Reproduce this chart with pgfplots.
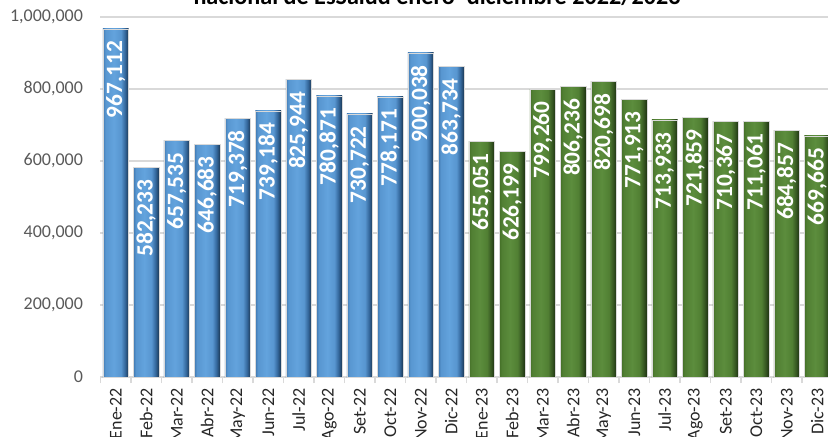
\documentclass[border=0pt]{standalone}
\usepackage{pgfplots}
\pgfplotsset{compat=1.18}
\usepackage{fontspec}
\setmainfont{Carlito}
\definecolor{bl1}{HTML}{3F78B0}
\definecolor{bl2}{HTML}{5896D0}
\definecolor{bl3}{HTML}{63A3DD}
\definecolor{bl4}{HTML}{33669A}
\definecolor{bl5}{HTML}{1A344F}
\definecolor{gr1}{HTML}{436F27}
\definecolor{gr2}{HTML}{517F33}
\definecolor{gr3}{HTML}{5C8D3D}
\definecolor{gr4}{HTML}{365722}
\definecolor{gr5}{HTML}{1B2E10}
\definecolor{ytxt}{HTML}{595959}
\definecolor{gridc}{HTML}{D9D9D9}
\pgfdeclarehorizontalshading{bluebar}{100bp}{color(0bp)=(bl1); color(25bp)=(bl1); color(30bp)=(bl2); color(46bp)=(bl3); color(60bp)=(bl2); color(68bp)=(bl4); color(75bp)=(bl5); color(100bp)=(bl5)}
\pgfdeclarehorizontalshading{greenbar}{100bp}{color(0bp)=(gr1); color(25bp)=(gr1); color(30bp)=(gr2); color(46bp)=(gr3); color(60bp)=(gr2); color(68bp)=(gr4); color(75bp)=(gr5); color(100bp)=(gr5)}

\begin{document}
\begin{tikzpicture}
\useasboundingbox (0pt,0pt) rectangle (621pt,327pt);
\clip (0pt,0pt) rectangle (621pt,327pt);
\node[anchor=base, font=\fontsize{18.1}{21}\selectfont\bfseries] at (327.75pt,323.25pt) {nacional de EsSalud enero–diciembre 2022/2023};
\begin{axis}[
  at={(75.375pt,44.25pt)}, anchor=south west,
  scale only axis, width=549pt, height=270pt,
  xmin=-0.5, xmax=23.5, ymin=0, ymax=1000000,
  bar shift=0pt,
  axis x line*=bottom, axis y line*=left,
  y axis line style={draw=none},
  x axis line style={-, draw=gridc, line width=1.1pt},
  xtick={0,...,23},
  xticklabels={Ene-22,Feb-22,Mar-22,Abr-22,May-22,Jun-22,Jul-22,Ago-22,Set-22,Oct-22,Nov-22,Dic-22,Ene-23,Feb-23,Mar-23,Abr-23,May-23,Jun-23,Jul-23,Ago-23,Set-23,Oct-23,Nov-23,Dic-23},
  minor xtick={-0.5,0.5,...,23.5},
  tick align=outside,
  major tick length=0pt,
  minor tick length=4.5pt,
  minor x tick style={draw=gridc, line width=0.9pt},
  major x tick style={draw=none},
  major y tick style={draw=none},
  ytick={0,200000,400000,600000,800000,1000000},
  scaled y ticks=false,
  ymajorgrids,
  major grid style={draw=gridc, line width=0.9pt},
  /pgf/number format/assume math mode=true,
  yticklabel style={/pgf/number format/.cd, fixed, precision=0, 1000 sep={,}, /tikz/.cd, font=\fontsize{13.5}{16}\selectfont, text=ytxt, anchor=east, inner sep=0pt, xshift=-13pt},
  xticklabel style={yshift=-8.25pt, rotate=90, anchor=east, inner sep=0pt, font=\fontsize{13.5}{16}\selectfont, text=black!85},
  point meta=explicit symbolic,
  nodes near coords,
  nodes near coords style={font=\fontsize{17.5}{20}\selectfont\bfseries, text=white, yshift=-9pt, rotate=90, anchor=east, inner sep=0pt},
  bb/.style={ybar, bar width=0.85, shade, shading=bluebar, draw=gray!30, line width=0.4pt},
  gb/.style={ybar, bar width=0.85, shade, shading=greenbar, draw=gray!30, line width=0.4pt},
]
% 2022
\addplot[bb] coordinates {(0,967112) [967,112]};
\addplot[bb] coordinates {(1,582233) [582,233]};
\addplot[bb] coordinates {(2,657535) [657,535]};
\addplot[bb] coordinates {(3,646683) [646,683]};
\addplot[bb] coordinates {(4,719378) [719,378]};
\addplot[bb] coordinates {(5,739184) [739,184]};
\addplot[bb] coordinates {(6,825944) [825,944]};
\addplot[bb] coordinates {(7,780871) [780,871]};
\addplot[bb] coordinates {(8,730722) [730,722]};
\addplot[bb] coordinates {(9,778171) [778,171]};
\addplot[bb] coordinates {(10,900038) [900,038]};
\addplot[bb] coordinates {(11,863734) [863,734]};
% 2023
\addplot[gb] coordinates {(12,655051) [655,051]};
\addplot[gb] coordinates {(13,626199) [626,199]};
\addplot[gb] coordinates {(14,799260) [799,260]};
\addplot[gb] coordinates {(15,806236) [806,236]};
\addplot[gb] coordinates {(16,820698) [820,698]};
\addplot[gb] coordinates {(17,771913) [771,913]};
\addplot[gb] coordinates {(18,713933) [713,933]};
\addplot[gb] coordinates {(19,721859) [721,859]};
\addplot[gb] coordinates {(20,710367) [710,367]};
\addplot[gb] coordinates {(21,711061) [711,061]};
\addplot[gb] coordinates {(22,684857) [684,857]};
\addplot[gb] coordinates {(23,669665) [669,665]};
\end{axis}
\end{tikzpicture}
\end{document}
